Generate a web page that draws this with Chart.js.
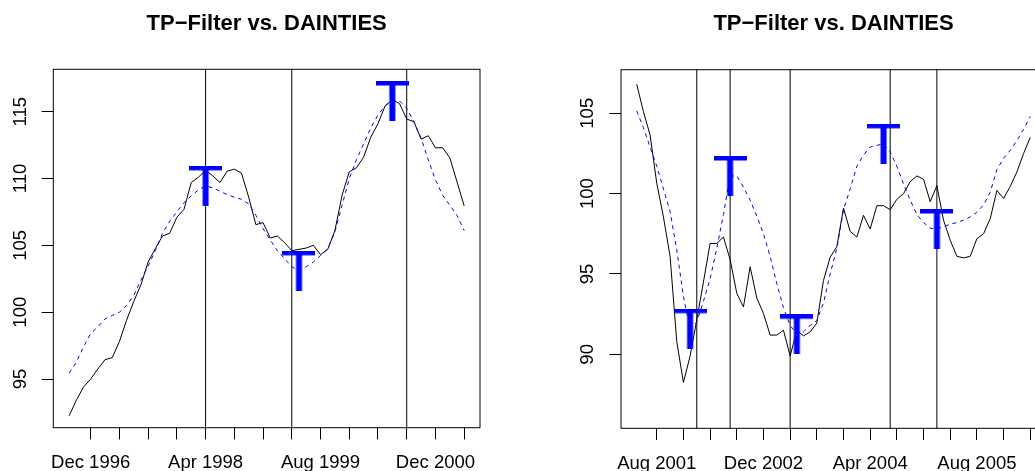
<!DOCTYPE html>
<html>
<head>
<meta charset="utf-8">
<script src="https://cdn.jsdelivr.net/npm/chart.js@4.4.1/dist/chart.umd.min.js"></script>
<style>
  html, body { margin: 0; padding: 0; background: #fff; overflow: hidden; }
  .panel { position: absolute; top: 0; }
</style>
</head>
<body>
<div class="panel" style="left:0px;width:517px;height:471px"><canvas id="leftChart" width="517" height="471"></canvas></div>
<div class="panel" style="left:517px;width:567px;height:471px"><canvas id="rightChart" width="567" height="471"></canvas></div>
<script>
// ---- data ----
const leftStart = "Sep 1996";
const rightStart = "May 2001";

// black solid line
const leftSeries = [
  92.25, 93.4, 94.4, 95.0, 95.75, 96.45, 96.6, 97.8, 99.4, 100.8,
  102.05, 103.75, 104.75, 105.7, 105.9, 107.1, 107.7, 109.7, 110.1, 110.6,
  110.2, 109.7, 110.55, 110.7, 110.4, 108.6, 106.55, 106.7, 105.55, 105.7,
  105.2, 104.6, 104.7, 104.8, 105.0, 104.3, 104.7, 106.1, 108.75, 110.5,
  110.8, 111.6, 113.1, 114.1, 115.45, 115.9, 115.6, 114.45, 114.25, 112.95,
  113.2, 112.3, 112.3, 111.55, 109.75, 107.95
];
// blue dashed line (TP-filter)
const leftFilter = [
  95.45, 96.25, 97.4, 98.4, 98.9, 99.5, 99.75, 100.0, 100.5, 101.25,
  102.4, 103.45, 104.6, 105.9, 106.8, 107.5, 108.2, 108.7, 109.15, 109.45,
  109.3, 109.05, 108.8, 108.6, 108.45, 108.1, 107.25, 106.25, 105.4, 104.6,
  104.0, 103.4, 103.1, 103.4, 103.75, 104.25, 104.75, 106.0, 108.0, 110.0,
  111.4, 112.6, 113.8, 114.75, 115.45, 115.8, 115.8, 115.25, 114.25, 113.0,
  111.4, 109.9, 108.75, 108.0, 107.25, 106.1
];
const leftFilterTurns = ["Apr 1998", "May 1999", "Jun 2000"];
const leftDaintiesTurns = ["Apr 1998", "Apr 1999", "Aug 2000"];

const rightSeries = [
  106.8, 105.1, 103.65, 100.65, 98.55, 96.1, 90.8, 88.25, 89.9, 92.15,
  94.5, 96.9, 96.9, 97.3, 95.9, 93.8, 92.95, 95.45, 93.5, 92.55,
  91.2, 91.2, 91.5, 89.9, 91.5, 91.15, 91.4, 91.95, 94.6, 96.05,
  96.7, 99.1, 97.65, 97.3, 98.65, 97.8, 99.25, 99.25, 99.0, 99.65,
  100.0, 100.75, 101.1, 100.9, 99.5, 100.5, 98.35, 97.1, 96.1, 96.0,
  96.1, 97.2, 97.5, 98.45, 100.2, 99.7, 100.45, 101.35, 102.5, 103.5
];
const rightFilter = [
  105.15, 104.1, 102.9, 101.7, 100.3, 98.9, 96.5, 93.6, 91.6, 92.0,
  93.3, 94.7, 96.6, 98.7, 101.1, 101.1, 100.4, 99.6, 98.6, 97.5,
  96.1, 94.4, 92.9, 91.8, 91.25, 91.4, 91.8, 92.1, 93.2, 95.0,
  96.6, 99.0, 100.3, 101.7, 102.4, 102.9, 103.0, 103.1, 102.6, 101.7,
  100.6, 99.6, 98.7, 98.2, 97.85, 97.8, 97.95, 98.1, 98.2, 98.35,
  98.55, 98.85, 99.3, 100.1, 101.5, 102.2, 102.7, 103.3, 104.0, 104.8
];
const rightFilterTurns = ["Jan 2002", "Jul 2002", "May 2003", "Jun 2004", "Feb 2005"];
const rightDaintiesTurns = ["Feb 2002", "Jul 2002", "Apr 2003", "Jul 2004", "Feb 2005"];

// axes
const leftTickMonths = ["Dec 1996", "Apr 1997", "Aug 1997", "Dec 1997", "Apr 1998", "Aug 1998", "Dec 1998",
  "Apr 1999", "Aug 1999", "Dec 1999", "Apr 2000", "Aug 2000", "Dec 2000", "Apr 2001"];
const leftTickLabels = ["Dec 1996", "Apr 1998", "Aug 1999", "Dec 2000"];
const rightTickMonths = ["Aug 2001", "Dec 2001", "Apr 2002", "Aug 2002", "Dec 2002", "Apr 2003", "Aug 2003",
  "Dec 2003", "Apr 2004", "Aug 2004", "Dec 2004", "Apr 2005", "Aug 2005", "Dec 2005", "Apr 2006"];
const rightTickLabels = ["Aug 2001", "Dec 2002", "Apr 2004", "Aug 2005"];
const leftYTicks = [95, 100, 105, 110, 115];
const rightYTicks = [90, 95, 100, 105];
const leftYRange = [91.36, 118.17];
const rightYRange = [85.4, 107.71];

const TITLE = "TP\u2212Filter vs. DAINTIES";
const MONTHS = ["Jan", "Feb", "Mar", "Apr", "May", "Jun", "Jul", "Aug", "Sep", "Oct", "Nov", "Dec"];

// "Apr 1998" -> running month number
const monthIndex = (s) => {
  const [m, y] = s.split(" ");
  return parseInt(y) * 12 + MONTHS.indexOf(m);
};

Chart.defaults.font.family = "'Liberation Sans', Arial, sans-serif";
Chart.defaults.color = "#000";

// T glyph used as the point style for the filter turning points
const makeT = () => {
  const c = document.createElement("canvas");
  c.width = 33;
  c.height = 40;
  const g = c.getContext("2d");
  g.fillStyle = "#0000ff";
  g.fillRect(0, 0, 33, 4.5);
  g.fillRect(13.5, 0, 6, 40);
  return c;
};
const tGlyph = makeT();

// box around the plot region + vertical DAINTIES lines
const framePlugin = {
  id: "frame",
  beforeDatasetsDraw(chart, args, opts) {
    const { ctx, chartArea: a } = chart;
    const x = chart.scales.x;
    ctx.save();
    ctx.strokeStyle = "#000";
    ctx.lineWidth = 1;
    ctx.beginPath();
    opts.turns.forEach((m) => {
      const px = x.getPixelForValue(monthIndex(m));
      ctx.moveTo(px, a.top);
      ctx.lineTo(px, a.bottom);
    });
    ctx.stroke();
    ctx.strokeRect(a.left, a.top, a.right - a.left, a.bottom - a.top);
    ctx.restore();
  },
};

const buildChart = (id, p) => {
  const start = monthIndex(p.start);
  const toPoints = (arr) => arr.map((v, i) => ({ x: start + i, y: v }));
  const turnPoints = p.filterTurns.map((m) => ({
    x: monthIndex(m),
    y: p.filter[monthIndex(m) - start],
  }));
  const n = p.series.length - 1;
  const labelMap = {};
  p.tickLabels.forEach((l) => (labelMap[monthIndex(l)] = l));

  return new Chart(document.getElementById(id), {
    type: "line",
    data: {
      datasets: [
        {
          data: turnPoints,
          showLine: false,
          pointStyle: tGlyph,
          pointRadius: 5,
          pointHoverRadius: 5,
        },
        {
          data: toPoints(p.filter),
          borderColor: "#0000ff",
          borderWidth: 1,
          borderDash: [4, 4],
          pointRadius: 0,
          tension: 0,
        },
        {
          data: toPoints(p.series),
          borderColor: "#000",
          borderWidth: 1,
          pointRadius: 0,
          tension: 0,
        },
      ],
    },
    options: {
      responsive: false,
      animation: false,
      events: [],
      layout: { padding: { left: 0, right: p.padRight, top: 0, bottom: 0 } },
      scales: {
        x: {
          type: "linear",
          min: start - 0.04 * n,
          max: start + n + 0.04 * n,
          afterBuildTicks: (scale) => {
            scale.ticks = p.tickMonths.map((m) => ({ value: monthIndex(m) }));
          },
          afterFit: (scale) => {
            scale.height = p.xHeight;
          },
          ticks: {
            autoSkip: false,
            maxRotation: 0,
            padding: 12.5,
            font: { size: 18.5 },
            callback: (value) => labelMap[value] || "",
          },
          grid: { drawOnChartArea: false, tickLength: 11.7, tickColor: "#000", tickWidth: 1 },
          border: { display: false },
        },
        y: {
          min: p.yRange[0],
          max: p.yRange[1],
          afterBuildTicks: (scale) => {
            scale.ticks = p.yTicks.map((v) => ({ value: v }));
          },
          afterFit: (scale) => {
            scale.width = p.yWidth;
          },
          ticks: {
            minRotation: 90,
            maxRotation: 90,
            crossAlign: "center",
            padding: 5.5,
            font: { size: 18.5 },
          },
          grid: { drawOnChartArea: false, tickLength: 11.7, tickColor: "#000", tickWidth: 1 },
          border: { display: false },
        },
      },
      plugins: {
        legend: { display: false },
        tooltip: { enabled: false },
        title: {
          display: true,
          text: TITLE,
          fullSize: false,
          color: "#000",
          font: { size: 22, weight: "bold" },
          padding: { top: 10.3, bottom: p.titleBottom },
        },
        frame: { turns: p.daintiesTurns },
      },
    },
    plugins: [framePlugin],
  });
};

buildChart("leftChart", {
  start: leftStart,
  series: leftSeries,
  filter: leftFilter,
  filterTurns: leftFilterTurns,
  daintiesTurns: leftDaintiesTurns,
  tickMonths: leftTickMonths,
  tickLabels: leftTickLabels,
  yTicks: leftYTicks,
  yRange: leftYRange,
  yWidth: 53.3,
  xHeight: 43.3,
  padRight: 37,
  titleBottom: 32.6,
});

buildChart("rightChart", {
  start: rightStart,
  series: rightSeries,
  filter: rightFilter,
  filterTurns: rightFilterTurns,
  daintiesTurns: rightDaintiesTurns,
  tickMonths: rightTickMonths,
  tickLabels: rightTickLabels,
  yTicks: rightYTicks,
  yRange: rightYRange,
  yWidth: 104,
  xHeight: 42.7,
  padRight: 38,
  titleBottom: 33.0,
});
</script>
</body>
</html>
